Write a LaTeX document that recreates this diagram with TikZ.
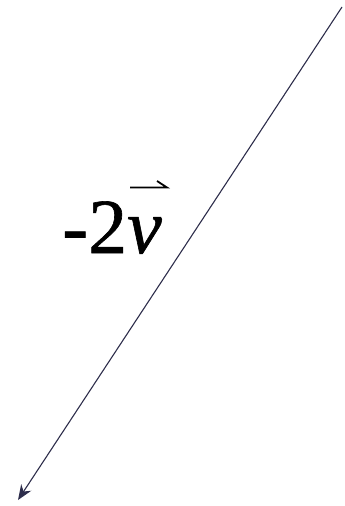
\documentclass[tikz,border=0pt]{standalone}
\usepackage{fontspec}
\setmainfont{Liberation Serif}
\newfontfamily\labelfont{Liberation Serif}[FakeBold=0.8]
\usetikzlibrary{arrows.meta}
\definecolor{vecline}{RGB}{45,45,75}
\tikzset{
    vecarrow/.style={draw=vecline, line width=1.1pt, -{Stealth[length=15pt, width=12pt]}},
    veclabel/.style={inner sep=0pt, anchor=base west, font=\labelfont\fontsize{78pt}{82pt}\selectfont},
}
\begin{document}
\begin{tikzpicture}[x=1pt, y=-1pt]
    \useasboundingbox (0,0) rectangle (345,506);
    \coordinate (tail) at (342,7);
    \coordinate (head) at (18,500);
    \draw[vecarrow] (tail) -- (head);
    \node[veclabel] (label) at (62,253) {-2\textit{v}};
    % small harpoon over the v
    \coordinate (barl) at (130,187.5);
    \coordinate (barr) at (167,187.5);
    \coordinate (barb) at (157,181);
    \draw[line width=1.8pt] (barl) -- (barr) -- (barb);
\end{tikzpicture}
\end{document}
